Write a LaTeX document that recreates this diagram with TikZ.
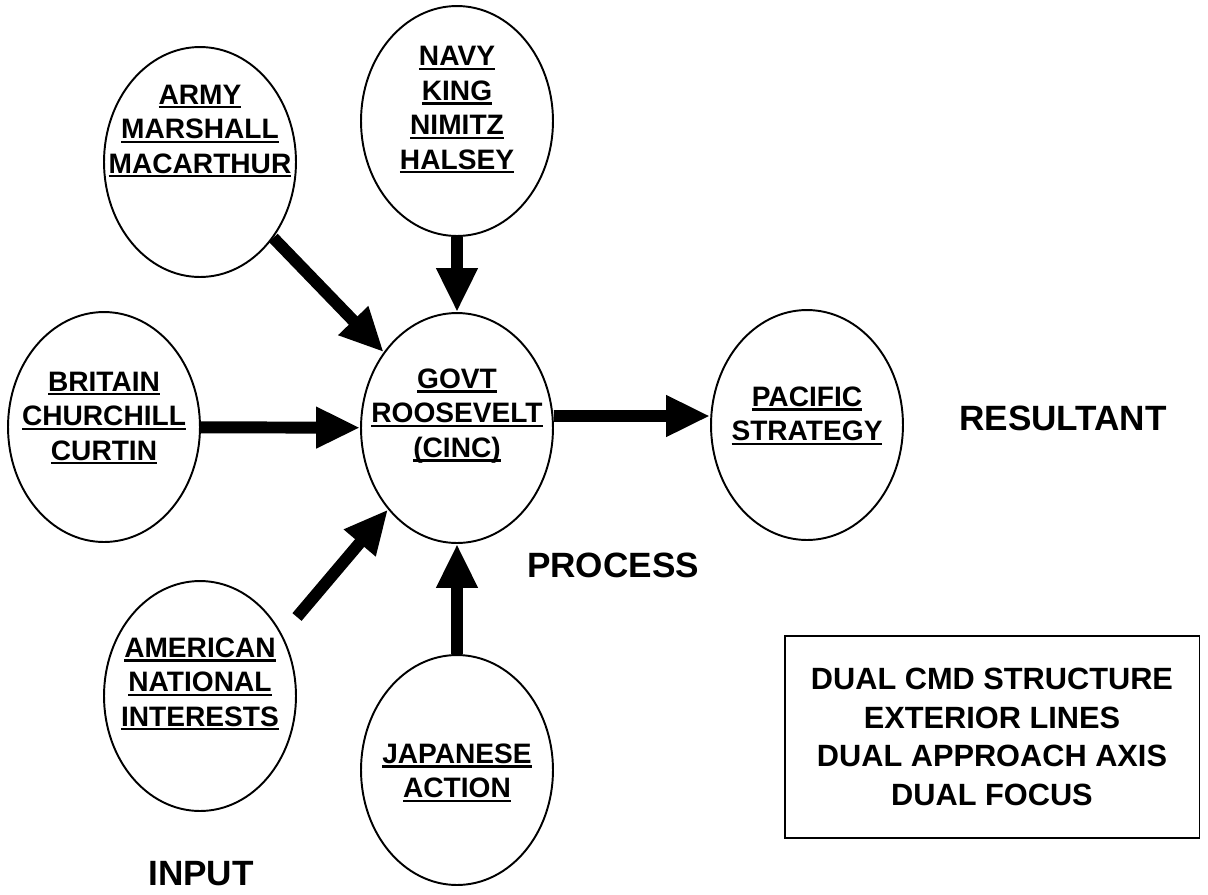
\documentclass[tikz,border=0pt]{standalone}
\usepackage{fontspec}
\setmainfont{Liberation Sans}
\usetikzlibrary{arrows.meta,shapes.geometric,positioning}

% underlined word, rule drawn under the whole box
\newcommand{\ulword}[1]{\setbox0=\hbox{#1}\rlap{\rule[-0.15em]{\wd0}{0.08em}}\box0}

\begin{document}
\begin{tikzpicture}[x=0.02cm,y=-0.02cm,
    bubble/.style={draw,ellipse,line width=1.1pt,minimum width=3.84cm,minimum height=4.6cm,inner sep=0pt},
    names/.style={font=\fontsize{16}{19.6}\selectfont\bfseries,align=center,inner sep=0pt},
    caption/.style={font=\fontsize{20}{24}\selectfont\bfseries,inner sep=0pt},
    flow/.style={line width=6.8pt,-{Triangle[length=25pt,width=22pt]}}]
  \useasboundingbox (0,0) rectangle (1208,894);

  % Ellipses
  \node[bubble] (army) at (200,162) {};
  \node[bubble] (navy) at (457,121) {};
  \node[bubble] (britain) at (104,427) {};
  \node[bubble] (govt) at (457,428) {};
  \node[bubble] (pacific) at (807,425) {};
  \node[bubble] (american) at (200,696) {};
  \node[bubble] (japanese) at (457,770) {};

  % Names inside
  \node[names] (armytxt) at (200,131) {\ulword{ARMY}\\\ulword{MARSHALL}\\\ulword{MACARTHUR}};
  \node[names] (navytxt) at (457,110) {\ulword{NAVY}\\\ulword{KING}\\\ulword{NIMITZ}\\\ulword{HALSEY}};
  \node[names] (britaintxt) at (104,418) {\ulword{BRITAIN}\\\ulword{CHURCHILL}\\\ulword{CURTIN}};
  \node[names] (govttxt) at (457,416) {\ulword{GOVT}\\\ulword{ROOSEVELT}\\\ulword{(CINC)}};
  \node[names] (pacifictxt) at (807,416) {\ulword{PACIFIC}\\\ulword{STRATEGY}};
  \node[names] (americantxt) at (200,684) {\ulword{AMERICAN}\\\ulword{NATIONAL}\\\ulword{INTERESTS}};
  \node[names] (japanesetxt) at (457,773) {\ulword{JAPANESE}\\\ulword{ACTION}};

  % Captions
  \node[caption] (resultant) at (1063,418) {RESULTANT};
  \node[caption] (process) at (613,565) {PROCESS};
  \node[caption] (input) at (201,874) {INPUT};

  % Notes box
  \node[draw,line width=1.1pt,minimum width=8.3cm,minimum height=4.04cm,align=center,
        font=\fontsize{17.5}{22}\selectfont\bfseries] (notes) at (992,737)
        {DUAL CMD STRUCTURE\\EXTERIOR LINES\\DUAL APPROACH AXIS\\DUAL FOCUS};

  % Arrows
  \coordinate (amstart) at (297,617);
  \draw[flow] (army) -- (govt);
  \draw[flow] (navy) -- (govt);
  \draw[flow] (britain) -- (govt);
  \draw[flow] (amstart) -- (govt);
  \draw[flow] (japanese) -- (govt);
  \draw[flow] ([yshift=0.24cm]govt.east) -- ([yshift=0.18cm]pacific.west);
\end{tikzpicture}
\end{document}
